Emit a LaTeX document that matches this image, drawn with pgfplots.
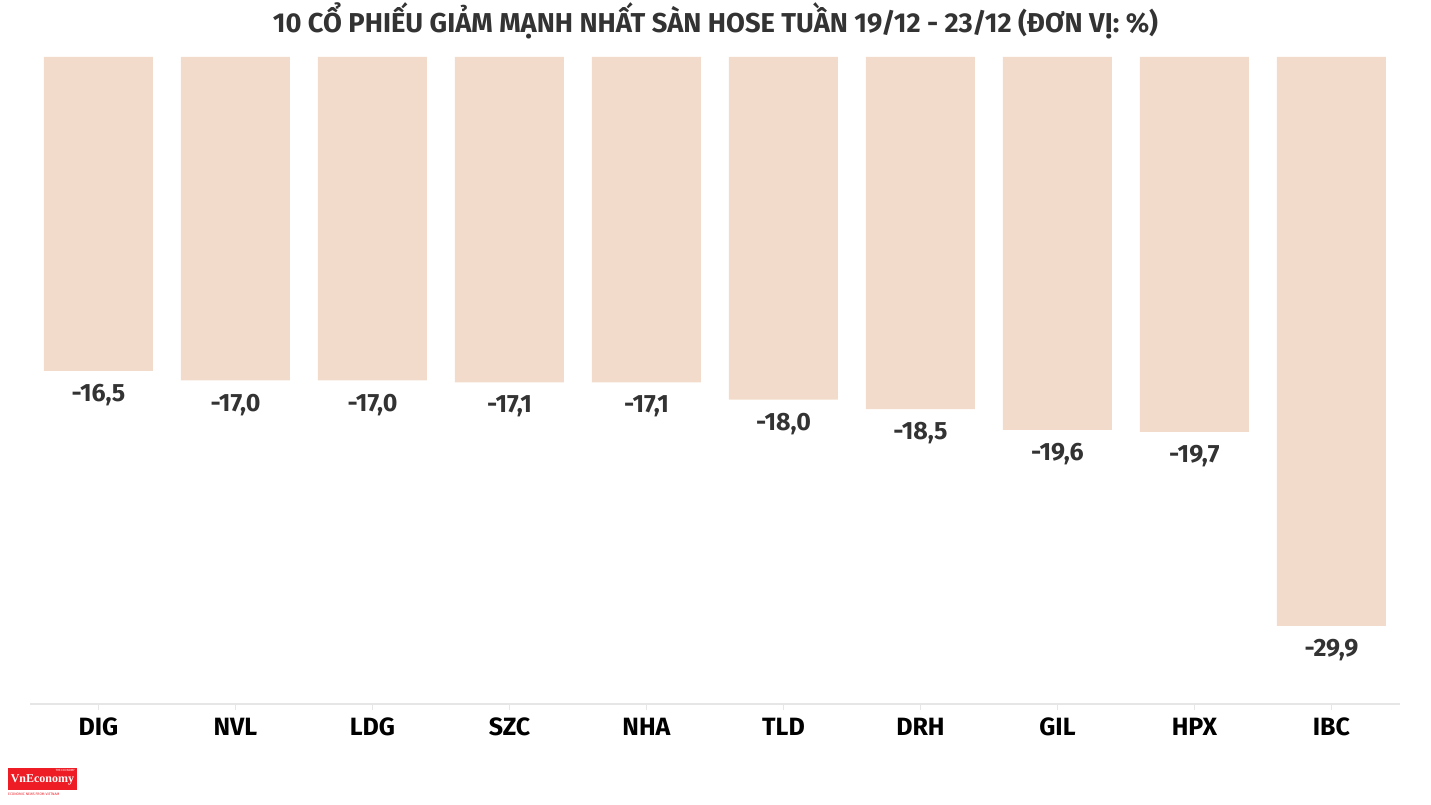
\documentclass[border=0pt]{standalone}
\usepackage{fontspec}
\setmainfont{Fira Sans}
\newfontfamily\logofont{Liberation Serif}
\usepackage{pgfplots}
\pgfplotsset{compat=1.18}
\definecolor{barfill}{HTML}{F2DBCA}
\definecolor{labeltext}{HTML}{333333}
\definecolor{axisgray}{HTML}{E6E6E6}
\definecolor{vnred}{HTML}{EE1C25}

\begin{document}
\begin{tikzpicture}[x=1pt,y=1pt]
\useasboundingbox (0,0) rectangle (1431,805);
\node[font=\fontsize{27.3}{27.3}\selectfont\bfseries, text=labeltext] at (715.5,784)
  {10 CỔ PHIẾU GIẢM MẠNH NHẤT SÀN HOSE TUẦN 19/12 - 23/12 (ĐƠN VỊ: \%)};
\begin{axis}[
  at={(30pt,101pt)}, anchor=south west,
  scale only axis, width=1370pt, height=647pt,
  ybar, bar width=109pt,
  xmin=-0.5, xmax=9.5, ymin=-34, ymax=0,
  axis x line=bottom, axis y line=none,
  x axis line style={-, draw=axisgray, line width=1.5pt},
  xtick=data,
  xticklabels={DIG,NVL,LDG,SZC,NHA,TLD,DRH,GIL,HPX,IBC},
  tick align=outside, major tick length=6pt,
  xtick style={draw=axisgray, line width=1.2pt},
  x tick label style={font=\fontsize{25}{25}\selectfont\bfseries, text=black,
    text height=18pt, text depth=0pt, yshift=-4pt},
  ytick=\empty,
  nodes near coords,
  nodes near coords style={font=\fontsize{25}{25}\selectfont\bfseries, text=labeltext, yshift=-10pt},
  /pgf/number format/use comma,
  /pgf/number format/fixed,
  /pgf/number format/fixed zerofill,
  /pgf/number format/precision=1,
  /pgf/number format/assume math mode=true,
  clip=false,
]
\addplot[fill=barfill, draw=none] coordinates {
  (0,-16.5) (1,-17.0) (2,-17.0) (3,-17.1) (4,-17.1)
  (5,-18.0) (6,-18.5) (7,-19.6) (8,-19.7) (9,-29.9)
};
\end{axis}
\fill[vnred] (8,15) rectangle (77,37);
\node[font=\logofont\bfseries\fontsize{12}{12}\selectfont, text=white, inner sep=0pt] at (42.5,25) {VnEconomy};
\node[font=\fontsize{3}{3}\selectfont, text=white, inner sep=0pt, anchor=east] at (75,34.5) {THE ECONOMY};
\node[font=\fontsize{3.5}{3.5}\selectfont, text=vnred, inner sep=0pt, anchor=west] at (8,11) {ECONOMIC NEWS FROM VIETNAM};
\end{tikzpicture}
\end{document}
